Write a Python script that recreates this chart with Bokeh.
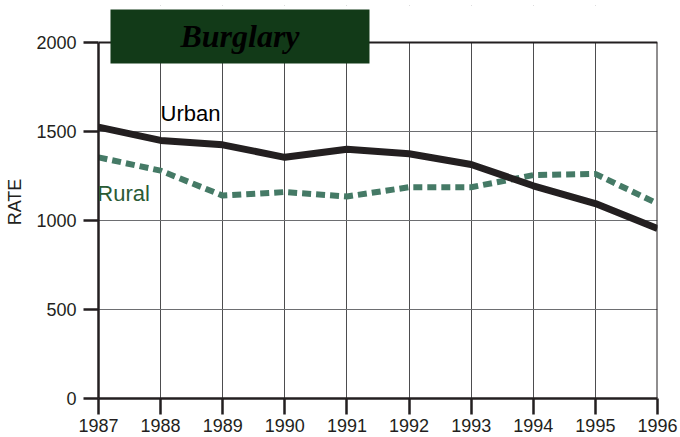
from bokeh.plotting import figure
from bokeh.models import Range1d, Label, FixedTicker
from bokeh.embed import file_html
from bokeh.resources import INLINE

years = [1987, 1988, 1989, 1990, 1991, 1992, 1993, 1994, 1995, 1996]
urban = [1525, 1450, 1425, 1355, 1400, 1375, 1315, 1195, 1095, 955]
rural = [1355, 1280, 1140, 1160, 1135, 1187, 1187, 1255, 1262, 1095]
y_ticks = [0, 500, 1000, 1500, 2000]
title_text = "Burglary"
y_title = "RATE"

Y_TOP = y_ticks[-1]
Y_VIEW = 2208  # extra room above the chart for the title box

p = figure(width=679, height=437, output_backend="svg", toolbar_location=None,
           x_range=Range1d(years[0], years[-1]), y_range=Range1d(0, Y_VIEW),
           min_border_left=98, min_border_right=22, min_border_top=5, min_border_bottom=39)
p.background_fill_color = "white"
p.border_fill_color = "white"
p.outline_line_color = None

p.xaxis.ticker = FixedTicker(ticks=years)
p.yaxis.ticker = FixedTicker(ticks=y_ticks)
p.yaxis.bounds = (0, Y_TOP)
p.xaxis.minor_tick_line_color = None
p.yaxis.minor_tick_line_color = None
for ax in (p.xaxis, p.yaxis):
    ax.axis_line_color = "#231f20"
    ax.axis_line_width = 2.5
    ax.major_tick_line_color = "#231f20"
    ax.major_tick_line_width = 2.5
    ax.major_tick_in = 0
    ax.major_label_text_font = "Liberation Sans"
    ax.major_label_text_font_size = "18px"
    ax.major_label_text_color = "#231f20"
p.xaxis.major_tick_out = 16
p.xaxis.major_label_standoff = 4
p.yaxis.major_tick_out = 15
p.yaxis.major_label_standoff = 7
p.yaxis.axis_label = y_title
p.yaxis.axis_label_text_font = "Liberation Sans"
p.yaxis.axis_label_text_font_style = "normal"
p.yaxis.axis_label_text_font_size = "18px"
p.yaxis.axis_label_text_color = "#231f20"
p.yaxis.axis_label_standoff = 8

p.xgrid.ticker = FixedTicker(ticks=years)
p.ygrid.ticker = FixedTicker(ticks=y_ticks)
p.xgrid.grid_line_color = "#4d4d4f"
p.ygrid.grid_line_color = "#6d6e71"
p.xgrid.grid_line_width = 1
p.ygrid.grid_line_width = 1.2

# blank the area above the chart, then draw the top and right borders
p.quad(left=[years[0]], right=[years[-1]], bottom=[Y_TOP], top=[Y_VIEW],
       fill_color="white", line_color=None)
p.line([years[0], years[-1]], [Y_TOP, Y_TOP], line_color="#231f20", line_width=2)
p.line([years[-1], years[-1]], [0, Y_TOP], line_color="#231f20", line_width=2)

p.line(years, rural, line_color="#457a66", line_width=6, line_dash="9 5")
p.line(years, urban, line_color="#231f20", line_width=7)

p.add_layout(Label(x=1988.0, y=1600, text="Urban", text_font="Liberation Sans",
                   text_font_size="22px", text_color="#000000", text_baseline="middle"))
p.add_layout(Label(x=1986.98, y=1152, text="Rural", text_font="Liberation Sans",
                   text_font_size="22px", text_color="#2a5b34", text_baseline="middle"))

# title box
p.quad(left=[1987.193], right=[1991.363], bottom=[1882], top=[2185],
       fill_color="#123a18", line_color=None)
p.add_layout(Label(x=1989.278, y=2034, text=title_text, text_font="Liberation Serif",
                   text_font_size="32px", text_font_style="bold italic", text_color="#000000",
                   text_align="center", text_baseline="middle"))

open("out.html", "w").write(file_html(p, INLINE))
